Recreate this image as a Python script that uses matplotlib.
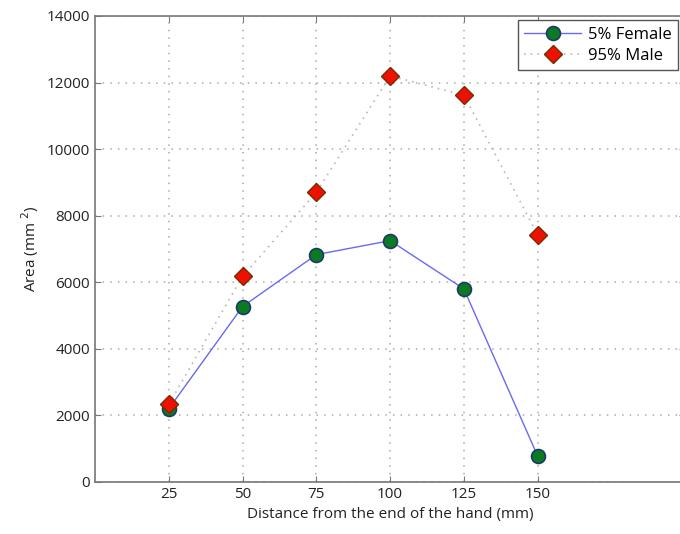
import matplotlib
matplotlib.use("Agg")
import matplotlib.pyplot as plt

plt.rcParams['font.family'] = ['Open Sans', 'DejaVu Sans']

distance = [25, 50, 75, 100, 125, 150]
female = [2200, 5270, 6830, 7250, 5800, 780]
male = [2330, 6180, 8700, 12200, 11620, 7430]

fig = plt.figure(figsize=(6.8, 5.34), dpi=100)
ax = fig.add_axes([0.1397, 0.0974, 0.868, 0.8727])

ax.plot(distance, female, color='#6a6af0', lw=1, marker='o', ms=10,
        mfc='#0c7a22', mec='#1a3a6a', mew=1.2, label='5% Female', zorder=3)
ax.plot(distance, male, color='#b8b8b8', lw=1.2, ls=(0, (1, 3)), marker='D', ms=9,
        mfc='#ee1100', mec='#7a2a00', mew=1, label='95% Male', zorder=4)

ax.set_xlim(0, 200)
ax.set_ylim(0, 14000)
ax.set_xticks(distance)
ax.set_yticks(range(0, 14001, 2000))
ax.grid(True, ls=(0, (1, 4)), color='#aaaaaa', lw=1.1)
ax.tick_params(direction='in', length=4, colors='#777777', labelcolor='#222222',
               labelsize=11, top=True, right=True)
for s in ax.spines.values():
    s.set_color('#777777')
    s.set_linewidth(1.2)

ax.set_xlabel('Distance from the end of the hand (mm)', fontsize=11, color='#222222')
ax.set_ylabel('Area (mm $^{2}$)', fontsize=11, color='#222222')

leg = ax.legend(loc='upper left', bbox_to_anchor=(0.716, 0.991), borderaxespad=0,
                fontsize=12, fancybox=False, framealpha=1, edgecolor='#555555',
                handlelength=3.4, handletextpad=0.4, borderpad=0.4, labelspacing=0.3)
leg.get_frame().set_linewidth(1)

fig.savefig('out.png', dpi=100)
